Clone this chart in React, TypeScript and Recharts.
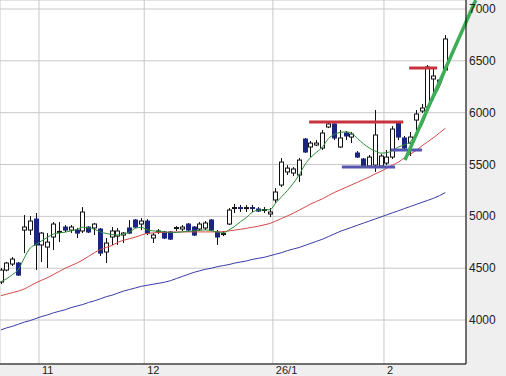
import React from 'react';
import {
  ComposedChart,
  Bar,
  Line,
  XAxis,
  YAxis,
  CartesianGrid,
  ReferenceLine,
} from 'recharts';

// daily candles, index 0 = first visible session
const opens = [4367, 4482, 4540, 4550, 4868, 4868, 4974, 4724, 4704, 4801, 4849, 4897, 4868, 4868, 4859, 4897, 4888, 4878, 4656, 4801, 4810, 4820, 4888, 4965, 4926, 4955, 4791, 4855, 4849, 4849, 4888, 4878, 4926, 4897, 4878, 4888, 4965, 4849, 4830, 4926, 5080, 5085, 5080, 5085, 5071, 5061, 5023, 5158, 5302, 5428, 5418, 5399, 5746, 5669, 5688, 5659, 5862, 5891, 5669, 5804, 5765, 5611, 5553, 5486, 5495, 5486, 5514, 5572, 5900, 5756, 5707, 5929, 6016, 6055, 6325, 6315, 6412];
const highs = [4502, 4560, 4608, 4560, 5013, 5003, 5032, 4849, 4839, 4945, 4945, 4916, 4916, 4888, 5090, 4905, 4936, 4888, 4791, 4897, 4888, 4849, 4965, 4974, 4984, 4974, 4839, 4878, 4859, 4859, 4907, 4916, 4936, 4907, 4945, 4955, 4974, 4868, 4859, 5080, 5119, 5110, 5110, 5110, 5090, 5090, 5080, 5273, 5563, 5495, 5476, 5563, 5756, 5727, 5736, 5833, 5920, 5900, 5833, 5823, 5814, 5630, 5563, 5592, 6026, 5601, 5640, 5871, 5910, 5775, 5814, 6026, 6084, 6460, 6441, 6325, 6749];
const lows = [4347, 4470, 4521, 4425, 4646, 4820, 4482, 4560, 4502, 4675, 4752, 4849, 4839, 4791, 4839, 4839, 4820, 4617, 4550, 4724, 4724, 4743, 4830, 4888, 4868, 4820, 4743, 4830, 4781, 4772, 4859, 4859, 4859, 4810, 4859, 4868, 4859, 4724, 4810, 4916, 5032, 5042, 5042, 5042, 5042, 5032, 4994, 5129, 5283, 5399, 5389, 5331, 5611, 5572, 5678, 5640, 5852, 5736, 5659, 5736, 5707, 5563, 5476, 5466, 5428, 5466, 5495, 5553, 5736, 5640, 5582, 5833, 5997, 6050, 6122, 6286, 6392];
const closes = [4482, 4550, 4588, 4434, 4897, 4955, 4724, 4839, 4752, 4926, 4855, 4868, 4897, 4839, 5042, 4849, 4926, 4646, 4743, 4859, 4859, 4839, 4839, 4897, 4955, 4839, 4820, 4859, 4791, 4781, 4892, 4897, 4868, 4820, 4926, 4936, 4868, 4801, 4834, 5061, 5085, 5080, 5085, 5080, 5051, 5066, 5042, 5235, 5524, 5466, 5457, 5543, 5621, 5707, 5707, 5804, 5891, 5756, 5756, 5775, 5794, 5572, 5486, 5572, 5785, 5582, 5572, 5842, 5765, 5659, 5765, 5987, 6045, 6441, 6354, 6296, 6711];

// moving averages
const maShort = [4370, 4400, 4440, 4490, 4600, 4695, 4730, 4765, 4800, 4830, 4840, 4848, 4860, 4875, 4895, 4890, 4875, 4850, 4835, 4825, 4820, 4830, 4850, 4885, 4895, 4870, 4860, 4855, 4850, 4845, 4845, 4850, 4855, 4860, 4865, 4870, 4860, 4850, 4840, 4870, 4905, 4950, 4990, 5040, 5060, 5062, 5065, 5130, 5190, 5250, 5320, 5400, 5500, 5570, 5620, 5670, 5750, 5790, 5810, 5815, 5800, 5750, 5700, 5660, 5630, 5610, 5615, 5635, 5670, 5690, 5720, 5800, 5880, 6020, 6140, 6250, 6400];
const ma25 = [4235, 4250, 4265, 4280, 4300, 4330, 4360, 4385, 4410, 4440, 4470, 4500, 4525, 4550, 4580, 4615, 4650, 4680, 4700, 4720, 4750, 4770, 4785, 4800, 4820, 4835, 4840, 4845, 4845, 4848, 4850, 4850, 4850, 4850, 4850, 4850, 4850, 4850, 4852, 4860, 4868, 4875, 4885, 4895, 4905, 4918, 4932, 4955, 4980, 5005, 5030, 5060, 5090, 5120, 5145, 5170, 5200, 5230, 5255, 5280, 5305, 5330, 5355, 5380, 5410, 5435, 5465, 5495, 5525, 5565, 5600, 5635, 5680, 5720, 5760, 5805, 5850];
const ma75 = [3905, 3925, 3940, 3960, 3980, 3995, 4015, 4035, 4050, 4070, 4085, 4100, 4120, 4135, 4150, 4170, 4185, 4205, 4225, 4240, 4260, 4280, 4295, 4310, 4325, 4335, 4345, 4355, 4365, 4380, 4400, 4420, 4440, 4460, 4475, 4490, 4500, 4515, 4525, 4535, 4550, 4560, 4570, 4585, 4595, 4605, 4620, 4635, 4650, 4670, 4685, 4700, 4720, 4740, 4760, 4780, 4805, 4830, 4855, 4875, 4895, 4915, 4935, 4955, 4975, 4995, 5015, 5035, 5055, 5075, 5095, 5115, 5135, 5155, 5175, 5200, 5230];

// month boundaries on the session axis
const monthTicks = [6.5, 24.5, 46.5, 65.5];
const monthLabels = ['11', '12', '26/1', '2'];
const priceTicks = [4000, 4500, 5000, 5500, 6000, 6500, 7000];

// hand drawn marks: [x1, x2, price]
const resistance = [[52.7, 68.8, 5910], [69.8, 74.6, 6431]];
const support = [[58.3, 67.4, 5476], [66.7, 72.0, 5640]];
const trend = [[69.1, 5543], [81.2, 7087]];

const data = opens.map((o, i) => ({
  i,
  o,
  h: highs[i],
  l: lows[i],
  c: closes[i],
  range: [lows[i], highs[i]],
  g: maShort[i],
  r: ma25[i],
  b: ma75[i],
}));

const FONT = '"Liberation Sans", Arial, sans-serif';

const Candle = (props: any) => {
  const { x, y, width, height, payload } = props;
  if (!payload) return null;
  const { o, h, l, c } = payload;
  const top = Math.min(y, y + height);
  const span = Math.abs(height);
  const k = span / (h - l);
  const cx = Math.round(x + width / 2) + 0.5;
  const bTop = top + (h - Math.max(o, c)) * k;
  const bBot = top + (h - Math.min(o, c)) * k;
  const up = c >= o;
  return (
    <g>
      <line x1={cx} x2={cx} y1={top} y2={top + span} stroke="#111" strokeWidth={1} />
      <rect
        x={cx - 2}
        y={bTop}
        width={4}
        height={Math.max(bBot - bTop, 1)}
        fill={up ? '#ffffff' : '#1a2580'}
        stroke={up ? '#111' : '#1a2580'}
        strokeWidth={1}
      />
    </g>
  );
};

const YTick = (props: any) => {
  const { y, payload } = props;
  return (
    <text x={469} y={y} dy={4} fontSize={12} fill="#222" fontFamily={FONT}>
      {payload.value}
    </text>
  );
};

const XTick = (props: any) => {
  const { x, payload } = props;
  const idx = monthTicks.indexOf(payload.value);
  return (
    <text x={x + 3} y={374} fontSize={11} fill="#222" fontFamily={FONT}>
      {monthLabels[idx]}
    </text>
  );
};

export default function App() {
  return (
    <div style={{ position: 'absolute', left: 0, top: 0, width: 506, height: 376, background: '#efefef' }}>
      <ComposedChart width={506} height={376} data={data} margin={{ top: 0, right: 0, bottom: 0, left: 0 }}>
        <CartesianGrid stroke="#c8c8c8" fill="#ffffff" />
        <XAxis
          dataKey="i"
          type="number"
          domain={[-0.166, 79.53]}
          ticks={monthTicks}
          allowDataOverflow
          height={12}
          tickLine={false}
          axisLine={{ stroke: '#000' }}
          tick={<XTick />}
          interval={0}
        />
        <YAxis
          orientation="right"
          domain={[3576, 7087]}
          ticks={priceTicks}
          allowDataOverflow
          width={40}
          tickLine={false}
          axisLine={{ stroke: '#000' }}
          tick={<YTick />}
          interval={0}
        />
        <Line dataKey="b" type="monotone" stroke="#3a3aa8" strokeWidth={1} dot={false} activeDot={false} isAnimationActive={false} />
        <Line dataKey="r" type="monotone" stroke="#d44848" strokeWidth={1} dot={false} activeDot={false} isAnimationActive={false} />
        <Line dataKey="g" type="monotone" stroke="#2f8a35" strokeWidth={1} dot={false} activeDot={false} isAnimationActive={false} />
        <Bar dataKey="range" barSize={5} shape={<Candle />} activeBar={false} isAnimationActive={false} />
        {resistance.map((s, k) => (
          <ReferenceLine
            key={'r' + k}
            segment={[{ x: s[0], y: s[2] }, { x: s[1], y: s[2] }]}
            stroke="#c9333f"
            strokeWidth={3}
            ifOverflow="visible"
          />
        ))}
        {support.map((s, k) => (
          <ReferenceLine
            key={'s' + k}
            segment={[{ x: s[0], y: s[2] }, { x: s[1], y: s[2] }]}
            stroke="#5656b2"
            strokeWidth={3}
            ifOverflow="visible"
          />
        ))}
        <ReferenceLine
          segment={[{ x: trend[0][0], y: trend[0][1] }, { x: trend[1][0], y: trend[1][1] }]}
          stroke="#3cae55"
          strokeWidth={3.5}
          ifOverflow="visible"
        />
      </ComposedChart>
    </div>
  );
}
